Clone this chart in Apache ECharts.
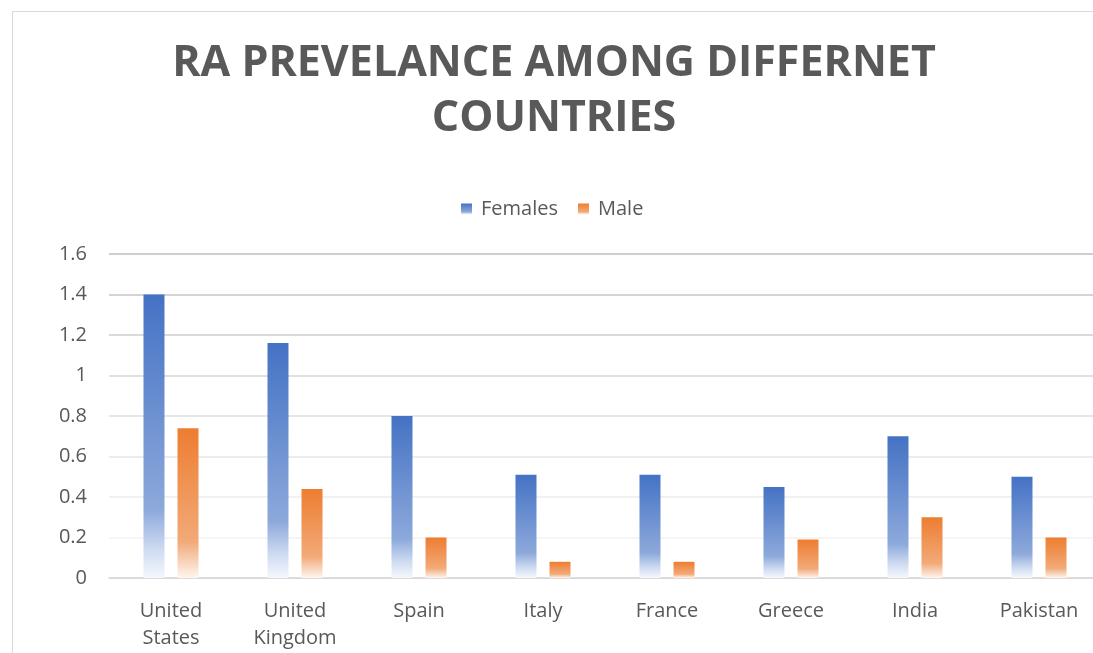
<!DOCTYPE html>
<html>
<head>
<meta charset="utf-8">
<title>RA prevalence among different countries</title>
<script src="https://cdn.jsdelivr.net/npm/echarts@6/dist/echarts.min.js"></script>
<style>
  html, body { margin: 0; padding: 0; background: #ffffff; }
  #chart { width: 1093px; height: 653px; }
</style>
</head>
<body>
<div id="chart"></div>
<script>
// Countries on the category axis
const countries = ['United\nStates', 'United\nKingdom', 'Spain', 'Italy', 'France', 'Greece', 'India', 'Pakistan'];
// Prevalence (%) by sex
const females = [1.4, 1.16, 0.8, 0.51, 0.51, 0.45, 0.7, 0.5];
const males = [0.74, 0.44, 0.2, 0.08, 0.08, 0.19, 0.3, 0.2];
// Value axis range
const yMin = 0;
const yMax = 1.6;
const yStep = 0.2;

const font = '"Open Sans", "Noto Sans", sans-serif';
const textGrey = '#595959';

// Vertical fill: solid at the top, fading to white near the baseline
function fade(top, mid, low, bottom) {
  return new echarts.graphic.LinearGradient(0, 0, 0, 1, [
    { offset: 0, color: top },
    { offset: 0.76, color: mid },
    { offset: 0.9, color: low },
    { offset: 1, color: bottom }
  ]);
}

const chart = echarts.init(document.getElementById('chart'), null, { renderer: 'canvas' });

chart.setOption({
  backgroundColor: '#ffffff',
  animation: false,
  graphic: [{
    type: 'rect',
    left: 10,
    top: 9,
    shape: { width: 1200, height: 800 },
    style: { fill: 'none', stroke: '#d9d9d9', lineWidth: 1 },
    silent: true,
    z: -1
  }],
  title: {
    text: 'RA PREVELANCE AMONG DIFFERNET\nCOUNTRIES',
    left: 549,
    textAlign: 'center',
    top: 31,
    textStyle: {
      fontFamily: font,
      fontWeight: 'bold',
      fontSize: 43,
      lineHeight: 55,
      color: textGrey
    }
  },
  legend: {
    top: 194,
    left: 456,
    itemWidth: 11,
    itemHeight: 11,
    itemGap: 20,
    icon: 'rect',
    textStyle: { fontFamily: font, fontSize: 20, color: textGrey, padding: [0, 0, 0, 4] },
    data: ['Females', 'Male']
  },
  grid: {
    left: 109,
    top: 254,
    width: 992,
    height: 324,
    containLabel: false,
    outerBoundsMode: 'none'
  },
  xAxis: {
    type: 'category',
    data: countries,
    axisTick: { show: false },
    axisLine: { show: true, lineStyle: { color: '#d9d9d9', width: 1.5 } },
    axisLabel: {
      interval: 0,
      margin: 20,
      fontFamily: font,
      fontSize: 20,
      lineHeight: 27,
      color: textGrey
    }
  },
  yAxis: {
    type: 'value',
    min: yMin,
    max: yMax,
    interval: yStep,
    axisLine: { show: false },
    axisTick: { show: false },
    axisLabel: {
      margin: 22,
      fontFamily: font,
      fontSize: 20,
      color: textGrey,
      formatter: v => String(parseFloat(v.toFixed(1)))
    },
    splitLine: {
      show: true,
      lineStyle: {
        width: 1.5,
        color: ['#d9d9d9', '#f2f2f2', '#ececec', '#e6e6e6', '#dedede', '#d6d6d6', '#cecece', '#c6c6c6', '#bfbfbf']
      }
    }
  },
  series: [
    {
      name: 'Females',
      type: 'bar',
      data: females,
      barWidth: 21,
      barGap: '62%',
      itemStyle: { color: fade('#4472C4', '#8DA9DB', '#cfdbf1', '#f5f8fd') }
    },
    {
      name: 'Male',
      type: 'bar',
      data: males,
      barWidth: 21,
      itemStyle: { color: fade('#ED7D31', '#F2AA78', '#f8d6be', '#fef6f0') }
    }
  ]
});
</script>
</body>
</html>
